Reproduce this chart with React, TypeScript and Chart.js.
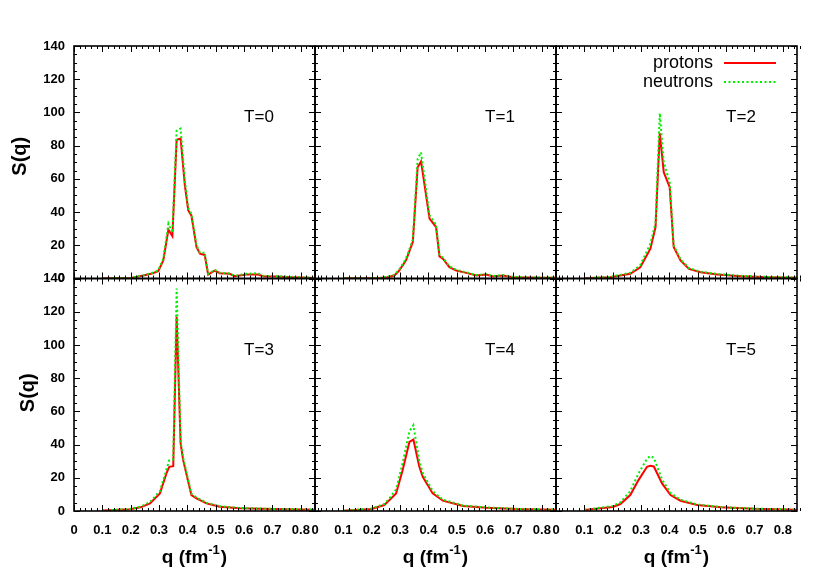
import { useEffect, useRef } from 'react';
import { Chart, registerables } from 'chart.js';

Chart.register(...registerables);

const FONT = "'Liberation Sans', Arial, Helvetica, sans-serif";

// Panel labels
const panelLabels = ['T=0', 'T=1', 'T=2', 'T=3', 'T=4', 'T=5'];
const seriesNames = ['protons', 'neutrons'];

// T=0
const qT0 = [0.10, 0.15, 0.20, 0.245, 0.275, 0.297, 0.315, 0.333, 0.347, 0.362, 0.376, 0.391, 0.403, 0.414, 0.432, 0.444, 0.461, 0.473, 0.496, 0.514, 0.549, 0.567, 0.608, 0.649, 0.667, 0.714, 0.76, 0.80, 0.85];
const pT0 = [0.2, 0.2, 0.3, 1.8, 3.0, 4.4, 10.9, 29.5, 25.5, 83.5, 84.3, 56, 41, 38, 19, 15, 14.2, 2.4, 4.8, 3.2, 2.8, 1.4, 2.4, 2.4, 1.4, 1.2, 0.8, 0.6, 0.3];
const nT0 = [0.2, 0.2, 0.3, 2.0, 3.3, 4.8, 11.8, 33.0, 27.5, 89.0, 90.3, 59, 42.5, 39, 20, 15.5, 15.5, 2.8, 5.2, 3.5, 3.0, 1.6, 2.8, 3.2, 1.6, 1.4, 1.0, 0.7, 0.4];

// T=1
const qT1 = [0.10, 0.20, 0.227, 0.255, 0.28, 0.297, 0.321, 0.345, 0.362, 0.374, 0.404, 0.427, 0.439, 0.451, 0.474, 0.498, 0.534, 0.569, 0.604, 0.628, 0.663, 0.698, 0.75, 0.80, 0.85];
const pT1 = [0.1, 0.2, 0.3, 0.8, 1.8, 4.8, 10.9, 22.0, 67.0, 70.5, 36.0, 31.0, 13.3, 11.9, 6.8, 4.8, 3.4, 1.8, 2.4, 1.2, 1.8, 0.8, 0.6, 0.5, 0.4];
const nT1 = [0.1, 0.2, 0.3, 1.0, 2.2, 5.4, 12.0, 23.5, 72.0, 76.0, 38.0, 32.5, 14.0, 12.6, 7.4, 5.2, 3.7, 2.1, 2.7, 1.5, 2.1, 1.0, 0.7, 0.6, 0.5];

// T=2
const qT2 = [0.10, 0.191, 0.262, 0.297, 0.333, 0.351, 0.366, 0.380, 0.401, 0.415, 0.439, 0.469, 0.51, 0.569, 0.652, 0.75, 0.85];
const pT2 = [0.1, 0.8, 2.8, 6.8, 18.0, 31.0, 87.5, 64.0, 55.0, 19.0, 10.9, 5.8, 3.8, 2.4, 1.4, 0.8, 0.5];
const nT2 = [0.1, 1.0, 3.4, 8.0, 21.0, 33.5, 99.5, 70.0, 58.0, 20.0, 11.6, 6.3, 4.1, 2.7, 1.6, 0.9, 0.6];

// T=3
const qT3 = [0.10, 0.197, 0.235, 0.268, 0.303, 0.326, 0.336, 0.350, 0.362, 0.376, 0.385, 0.414, 0.432, 0.467, 0.514, 0.585, 0.70, 0.85];
const pT3 = [0.3, 1.0, 2.2, 4.6, 10.6, 22.6, 26.6, 27.0, 117.0, 40.7, 30.6, 9.6, 7.6, 4.6, 2.6, 1.6, 1.2, 0.8];
const nT3 = [0.3, 1.2, 2.6, 5.4, 12.0, 25.0, 30.6, 31.0, 134.0, 42.0, 32.0, 10.4, 8.2, 5.0, 2.9, 1.8, 1.3, 0.9];

// T=4
const qT4 = [0.10, 0.20, 0.244, 0.262, 0.286, 0.309, 0.333, 0.347, 0.368, 0.38, 0.415, 0.451, 0.522, 0.604, 0.71, 0.85];
const pT4 = [0.1, 1.2, 3.6, 6.5, 10.6, 24.6, 41.6, 43.0, 26.6, 20.6, 10.6, 6.2, 3.0, 2.0, 1.2, 0.7];
const nT4 = [0.1, 1.5, 4.2, 7.5, 13.0, 29.0, 48.0, 51.7, 30.0, 23.0, 12.0, 6.8, 3.3, 2.2, 1.3, 0.8];

// T=5
const qT5 = [0.10, 0.20, 0.227, 0.262, 0.291, 0.321, 0.333, 0.345, 0.374, 0.404, 0.439, 0.498, 0.581, 0.699, 0.85];
const pT5 = [0.6, 2.4, 4.2, 9.6, 18.6, 26.6, 27.2, 26.8, 16.6, 9.6, 6.2, 3.6, 2.2, 1.3, 0.8];
const nT5 = [0.7, 3.0, 5.2, 12.0, 22.6, 31.5, 33.2, 32.0, 19.0, 10.8, 6.8, 3.9, 2.4, 1.4, 0.9];

const qLists = [qT0, qT1, qT2, qT3, qT4, qT5];
const pLists = [pT0, pT1, pT2, pT3, pT4, pT5];
const nLists = [nT0, nT1, nT2, nT3, nT4, nT5];

const X_MIN = 0, X_MAX = 0.85, X_STEP = 0.1, X_MINOR = 0.02;
const Y_MIN = 0, Y_MAX = 140, Y_STEP = 20, Y_MINOR = 5;

const RED = '#ff0000';
const GREEN = '#00ee00';
const GREEN_DASH = [2, 2.5];

const xIds = ['x0', 'x1', 'x2'];
const yIds = ['yT', 'yB'];

function xAxis() {
  return {
    type: 'linear',
    position: 'bottom',
    stack: 'cols',
    stackWeight: 1,
    min: X_MIN,
    max: X_MAX,
    grid: { display: false, drawTicks: false },
    border: { display: false },
    ticks: {
      stepSize: X_STEP,
      includeBounds: false,
      autoSkip: false,
      maxRotation: 0,
      padding: 12,
      color: '#000',
      font: { family: FONT, size: 13, weight: 'bold' },
      callback: (v: any) => (Math.abs(v) < 1e-9 ? '0' : Number(v).toFixed(1)),
    },
    afterFit: (s: any) => { s.height = 70; },
  };
}

function yAxis() {
  return {
    type: 'linear',
    position: 'left',
    stack: 'rows',
    stackWeight: 1,
    min: Y_MIN,
    max: Y_MAX,
    grid: { display: false, drawTicks: false },
    border: { display: false },
    ticks: {
      stepSize: Y_STEP,
      includeBounds: false,
      autoSkip: false,
      padding: 9,
      color: '#000',
      font: { family: FONT, size: 13, weight: 'bold' },
    },
    afterFit: (s: any) => { s.width = 74; },
  };
}

const framePlugin = {
  id: 'frame',
  afterDraw(chart: any) {
    const ctx = chart.ctx;
    ctx.save();
    for (let r = 0; r < 2; r++) {
      for (let c = 0; c < 3; c++) {
        const xs = chart.scales[xIds[c]];
        const ys = chart.scales[yIds[r]];
        const L = xs.left, R = xs.right, T = ys.top, B = ys.bottom;
        ctx.strokeStyle = '#000';
        ctx.lineWidth = 1;
        ctx.beginPath();
        const nx = Math.round((X_MAX - X_MIN) / X_MINOR);
        for (let i = 0; i <= nx; i++) {
          const v = X_MIN + i * X_MINOR;
          const px = Math.round(xs.getPixelForValue(v)) + 0.5;
          const major = i % 5 === 0;
          const len = major ? 6 : 3;
          ctx.moveTo(px, B); ctx.lineTo(px, B - len);
          ctx.moveTo(px, T); ctx.lineTo(px, T + len);
        }
        const ny = Math.round((Y_MAX - Y_MIN) / Y_MINOR);
        for (let i = 0; i <= ny; i++) {
          const v = Y_MIN + i * Y_MINOR;
          const py = Math.round(ys.getPixelForValue(v)) + 0.5;
          const major = i % 4 === 0;
          const len = major ? 6 : 3;
          ctx.moveTo(L, py); ctx.lineTo(L + len, py);
          ctx.moveTo(R, py); ctx.lineTo(R - len, py);
        }
        ctx.stroke();
        ctx.lineWidth = 1.6;
        ctx.strokeRect(L, T, R - L, B - T);

        const idx = r * 3 + c;
        ctx.fillStyle = '#000';
        ctx.font = `17px ${FONT}`;
        ctx.textAlign = 'left';
        ctx.textBaseline = 'middle';
        ctx.fillText(panelLabels[idx], xs.getPixelForValue(0.6), ys.getPixelForValue(97));
      }
    }

    ctx.fillStyle = '#000';
    ctx.font = `bold 20px ${FONT}`;
    ctx.textAlign = 'center';
    ctx.textBaseline = 'middle';
    for (let r = 0; r < 2; r++) {
      const ys = chart.scales[yIds[r]];
      const cx = r === 0 ? 20 : 28;
      ctx.save();
      ctx.translate(cx, (ys.top + ys.bottom) / 2 - (r === 0 ? 6 : 2));
      ctx.rotate(-Math.PI / 2);
      ctx.fillText('S(q)', 0, 0);
      ctx.restore();
    }

    for (let c = 0; c < 3; c++) {
      const xs = chart.scales[xIds[c]];
      const cx = (xs.left + xs.right) / 2;
      const base = 563;
      const mainFont = `bold 19px ${FONT}`;
      const supFont = `bold 13px ${FONT}`;
      ctx.textBaseline = 'alphabetic';
      ctx.textAlign = 'left';
      ctx.font = mainFont;
      const w1 = ctx.measureText('q (fm').width;
      const w3 = ctx.measureText(')').width;
      ctx.font = supFont;
      const w2 = ctx.measureText('-1').width;
      const total = w1 + w2 + w3 + 1;
      let x = cx - total / 2;
      ctx.font = mainFont;
      ctx.fillText('q (fm', x, base);
      x += w1;
      ctx.font = supFont;
      ctx.fillText('-1', x, base - 9);
      x += w2 + 1;
      ctx.font = mainFont;
      ctx.fillText(')', x, base);
    }

    const lx = 713, ly0 = 63, ly1 = 82;
    ctx.font = `18px ${FONT}`;
    ctx.textAlign = 'right';
    ctx.textBaseline = 'middle';
    ctx.fillStyle = '#000';
    ctx.fillText(seriesNames[0], lx, ly0);
    ctx.fillText(seriesNames[1], lx, ly1);
    ctx.lineWidth = 2;
    ctx.strokeStyle = RED;
    ctx.setLineDash([]);
    ctx.beginPath(); ctx.moveTo(724, ly0); ctx.lineTo(776, ly0); ctx.stroke();
    ctx.strokeStyle = GREEN;
    ctx.setLineDash(GREEN_DASH);
    ctx.beginPath(); ctx.moveTo(724, ly1); ctx.lineTo(776, ly1); ctx.stroke();
    ctx.setLineDash([]);
    ctx.restore();
  },
};

export default function App() {
  const ref = useRef<HTMLCanvasElement | null>(null);
  useEffect(() => {
    if (!ref.current) return;
    const datasets: any[] = [];
    for (let i = 0; i < 6; i++) {
      const xId = xIds[i % 3];
      const yId = i < 3 ? 'yT' : 'yB';
      const q = qLists[i];
      datasets.push({
        label: `${seriesNames[0]} ${panelLabels[i]}`,
        data: q.map((x, k) => ({ x, y: pLists[i][k] })),
        xAxisID: xId,
        yAxisID: yId,
        borderColor: RED,
        borderWidth: 2,
        pointRadius: 0,
        tension: 0,
        fill: false,
        order: 2,
      });
      datasets.push({
        label: `${seriesNames[1]} ${panelLabels[i]}`,
        data: q.map((x, k) => ({ x, y: nLists[i][k] })),
        xAxisID: xId,
        yAxisID: yId,
        borderColor: GREEN,
        borderWidth: 2,
        borderDash: GREEN_DASH,
        pointRadius: 0,
        tension: 0,
        fill: false,
        order: 1,
      });
    }
    const chart = new Chart(ref.current, {
      type: 'line',
      data: { datasets },
      options: {
        animation: false,
        responsive: false,
        devicePixelRatio: 1,
        layout: { padding: { left: 0, top: 46, right: 33, bottom: 0 } },
        plugins: { legend: { display: false }, tooltip: { enabled: false } },
        scales: {
          x0: xAxis(),
          x1: xAxis(),
          x2: xAxis(),
          yB: yAxis(),
          yT: yAxis(),
        } as any,
      },
      plugins: [framePlugin],
    } as any);
    return () => chart.destroy();
  }, []);
  return (
    <div style={{ position: 'absolute', left: 0, top: 0, width: 830, height: 581, background: '#fff' }}>
      <canvas ref={ref} width={830} height={581} style={{ display: 'block' }} />
    </div>
  );
}
